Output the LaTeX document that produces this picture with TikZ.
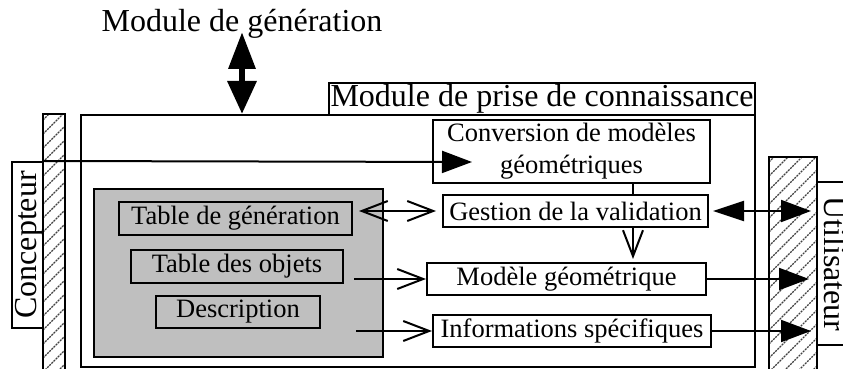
\documentclass[tikz,border=0pt]{standalone}
\usepackage{fontspec}
\setmainfont{Liberation Serif}
\usetikzlibrary{arrows.meta}
\begin{document}
\begin{tikzpicture}[x=0.5pt,y=-0.5pt,
  box/.style={draw,line width=1pt,inner sep=0pt,anchor=center},
  wh/.style 2 args={minimum width=#1,minimum height=#2},
  big/.style={font=\fontsize{16}{19}\selectfont},
  small/.style={font=\fontsize{13.25}{15.9}\selectfont},
  hatch/.style={line width=0.55pt,black!75,dash pattern=on 1pt off 0.5pt},
  hatched/.style={path picture={
      \foreach \k in {-14,...,24}
        \draw[hatch] ([yshift=\k*7pt]path picture bounding box.south west) -- ++(150,-150);}},
  conn/.style={line width=1pt},
  openarr/.style={conn,-{Straight Barb[length=13pt,width=10pt]}},
  fillarr/.style={conn,-{Triangle[length=15pt,width=11pt]}},
  bigarr/.style={line width=3.2pt,{Triangle[length=18.5pt,width=13pt]}-{Triangle[length=16.5pt,width=14pt]}}
]
\useasboundingbox (0,0) rectangle (843,369);

% title text and frames
\node[big, anchor=base] (gen) at (242,32) {Module de génération};
\node[box, wh={337pt}{126pt}] (outer) at (418,241) {};
\node[box, big, wh={213pt}{16pt}] (title) at (542,99) {Module de prise de connaissance};

% left actor
\node[box, hatched, wh={11pt}{129pt}] (lbar) at (54,243) {};
\node[box, wh={15.5pt}{83pt}] (conc) at (27.5,245) {};
\node[big, rotate=90, anchor=base] (concT) at (37,245) {Concepteur};

% right actor
\node[box, hatched, wh={24pt}{107.5pt}] (rbar) at (793,264.5) {};
\node[box, wh={21.5pt}{81.5pt}] (util) at (838.5,263.5) {};
\node[big, rotate=-90, anchor=base] (utilT) at (824,264) {Utilisateur};

% grey block
\node[box, fill=black!25, wh={144.5pt}{84pt}] (gray) at (238.5,273) {};
\node[box, small, wh={116.5pt}{16.5pt}] (tgen) at (235.5,218.5) {Table de génération};
\node[box, small, wh={106pt}{16.5pt}] (tobj) at (237,266.5) {Table des objets};
\node[box, small, wh={82pt}{16pt}] (desc) at (238,312) {Description};

% processing boxes
\node[box, small, align=center, wh={138.5pt}{31.5pt}] (conv) at (571.5,151.5) {Conversion de modèles\\géométriques};
\node[box, small, wh={132.5pt}{16pt}] (gest) at (575.5,211) {Gestion de la validation};
\node[box, small, wh={139.5pt}{16pt}] (mod) at (566.5,279) {Modèle géométrique};
\node[box, small, wh={139pt}{16pt}] (info) at (572,331) {Informations spécifiques};

% connectors
\draw[bigarr] (gen.base) -- (gen.base |- outer.north);

\coordinate (tipA) at (472,162);
\draw[fillarr] (conc.north east) -- (tipA);

\coordinate (vx) at (633,0);
\draw[conn] (conv.south -| vx) -- (gest.north -| vx);
\draw[openarr, shorten >=1.5pt] (gest.south -| vx) -- (mod.north -| vx);

\draw[conn, {Straight Barb[length=13pt,width=10pt]}-{Straight Barb[length=13pt,width=10pt]},
      shorten <=3pt, shorten >=3pt] (tgen.east |- gest.west) -- (gest.west);
\draw[openarr, shorten <=5pt] (tobj.east |- mod.west) -- (mod.west);
\draw[openarr, shorten <=17.5pt] (desc.east |- info.west) -- (info.west);

\draw[conn, {Triangle[length=15.5pt,width=10pt]}-{Triangle[length=15pt,width=11pt]},
      shorten <=2pt, shorten >=2.5pt] (gest.east) -- (gest.east -| util.west);
\draw[fillarr, shorten >=3.5pt] (mod.east) -- (mod.east -| util.west);
\draw[fillarr, shorten >=2.5pt] (info.east) -- (info.east -| util.west);
\end{tikzpicture}
\end{document}
